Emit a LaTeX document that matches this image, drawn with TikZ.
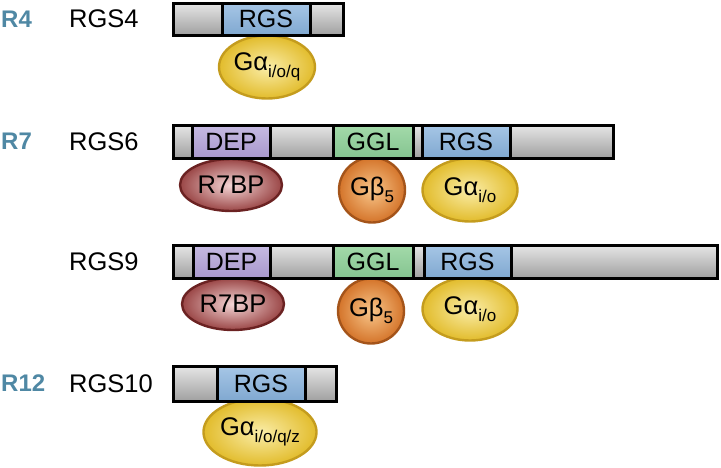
\documentclass[tikz,border=0pt]{standalone}
\usepackage{fontspec}
\setmainfont{Liberation Sans}
\usetikzlibrary{shapes.geometric}
\definecolor{greyT}{HTML}{E6E6E6}
\definecolor{greyB}{HTML}{A0A0A0}
\definecolor{rgsT}{HTML}{A6C6E6}
\definecolor{rgsB}{HTML}{80A8D0}
\definecolor{depT}{HTML}{C6BAE2}
\definecolor{depB}{HTML}{A898CC}
\definecolor{gglT}{HTML}{A4DAAA}
\definecolor{gglB}{HTML}{84C490}
\definecolor{gaIn}{HTML}{FAEDA8}
\definecolor{gaOut}{HTML}{E2BC2C}
\definecolor{gaLine}{HTML}{C49C1E}
\definecolor{rbIn}{HTML}{F4D6D6}
\definecolor{rbOut}{HTML}{9A4646}
\definecolor{rbLine}{HTML}{6B2222}
\definecolor{gbIn}{HTML}{F8C68A}
\definecolor{gbOut}{HTML}{D4742A}
\definecolor{gbLine}{HTML}{A4541A}
\definecolor{famcol}{HTML}{4F88A4}
\tikzset{
  segbox/.style={rectangle, draw=black, line width=3pt, inner sep=0pt, outer sep=0pt,
     font=\fontsize{25}{25}\selectfont},
  greyseg/.style={segbox, top color=greyT, bottom color=greyB},
  rgsseg/.style={segbox, top color=rgsT, bottom color=rgsB},
  depseg/.style={segbox, top color=depT, bottom color=depB},
  gglseg/.style={segbox, top color=gglT, bottom color=gglB},
  partner/.style={ellipse, line width=2.4pt, inner sep=0pt, outer sep=0pt,
     font=\fontsize{25.5}{25.5}\selectfont},
  gapart/.style={partner, draw=gaLine, inner color=gaIn, outer color=gaOut},
  rbpart/.style={partner, draw=rbLine, inner color=rbIn, outer color=rbOut},
  gbpart/.style={partner, draw=gbLine, inner color=gbIn, outer color=gbOut},
  famlabel/.style={anchor=west, inner sep=0pt, text=famcol, font=\fontsize{24}{24}\selectfont\bfseries},
  protlabel/.style={anchor=west, inner sep=0pt, font=\fontsize{25.5}{25.5}\selectfont}
}
\newcommand\lowsub[1]{\raisebox{-0.27em}{\fontsize{17}{17}\selectfont #1}}
% name, x1, x2, y1, y2, style, text
\newcommand\mkseg[7]{%
  \pgfmathsetmacro\segw{#3-#2}\pgfmathsetmacro\segh{#5-#4}%
  \node[#6, minimum width=\segw pt, minimum height=\segh pt] (#1) at ({(#2+#3)/2},{(#4+#5)/2}) {#7};}
% name, cx, cy, w, h, style, text
\newcommand\mkpart[7]{%
  \node[#6, minimum width=#4pt, minimum height=#5pt] (#1) at (#2,#3) {#7};}
\begin{document}
\begin{tikzpicture}[x=1pt,y=-1pt]
\useasboundingbox (0,0) rectangle (721,467);
% labels
\node[famlabel] (fR4) at (1,19) {R4};
\node[protlabel] (pRGS4) at (69,19) {RGS4};
\node[famlabel] (fR7) at (1,141.5) {R7};
\node[protlabel] (pRGS6) at (69,141.5) {RGS6};
\node[protlabel] (pRGS9) at (69,262) {RGS9};
\node[famlabel] (fR12) at (1,383.5) {R12};
\node[protlabel] (pRGS10) at (69,383.5) {RGS10};
% partners
\mkpart{ga1}{267}{67}{96}{63}{gapart}{Gα\lowsub{i/o/q}}
\mkpart{rb2}{231}{185}{102}{52}{rbpart}{R7BP}
\mkpart{gb2}{372}{190}{66}{65}{gbpart}{Gβ\lowsub{5}}
\mkpart{ga2}{470}{190}{95}{63}{gapart}{Gα\lowsub{i/o}}
\mkpart{rb3}{233}{304}{102}{52}{rbpart}{R7BP}
\mkpart{gb3}{371}{311}{66}{65}{gbpart}{Gβ\lowsub{5}}
\mkpart{ga3}{470}{309}{95}{63}{gapart}{Gα\lowsub{i/o}}
\mkpart{ga4}{260}{432}{97}{67}{gapart}{Gα\lowsub{i/o/q/z}}
% RGS4
\mkseg{a1}{173}{222}{3}{35}{greyseg}{}
\mkseg{a2}{222}{310}{3}{35}{rgsseg}{RGS}
\mkseg{a3}{310}{343}{3}{35}{greyseg}{}
% RGS6
\mkseg{b1}{173}{192}{125}{158}{greyseg}{}
\mkseg{b2}{192}{270}{125}{158}{depseg}{DEP}
\mkseg{b3}{270}{333}{125}{158}{greyseg}{}
\mkseg{b4}{333}{413}{125}{158}{gglseg}{GGL}
\mkseg{b5}{413}{422}{125}{158}{greyseg}{}
\mkseg{b6}{422}{510}{125}{158}{rgsseg}{RGS}
\mkseg{b7}{510}{613}{125}{158}{greyseg}{}
% RGS9
\mkseg{c1}{173}{193}{245}{278}{greyseg}{}
\mkseg{c2}{193}{270}{245}{278}{depseg}{DEP}
\mkseg{c3}{270}{333}{245}{278}{greyseg}{}
\mkseg{c4}{333}{413}{245}{278}{gglseg}{GGL}
\mkseg{c5}{413}{424}{245}{278}{greyseg}{}
\mkseg{c6}{424}{511}{245}{278}{rgsseg}{RGS}
\mkseg{c7}{511}{717}{245}{278}{greyseg}{}
% RGS10
\mkseg{d1}{173}{217}{366}{401}{greyseg}{}
\mkseg{d2}{217}{305}{366}{401}{rgsseg}{RGS}
\mkseg{d3}{305}{336}{366}{401}{greyseg}{}
\end{tikzpicture}
\end{document}
